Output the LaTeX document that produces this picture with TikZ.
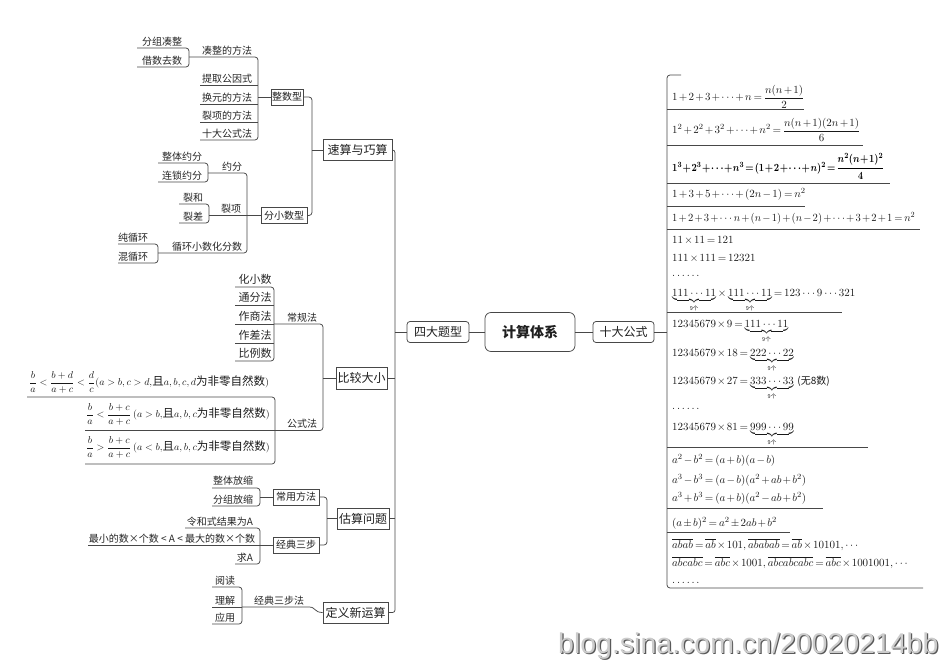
\documentclass[tikz,border=0pt]{standalone}
\usepackage{amsmath}
\usepackage{graphicx}
\usepackage{fontspec}
\newfontfamily\cjk{Noto Sans CJK SC}
\newfontfamily\wmfont{Liberation Sans}
\newcommand\zh[1]{{\cjk\fontsize{11.5}{12}\selectfont #1}}
\newcommand\nge{\mbox{\cjk\fontsize{5.5}{5.5}\selectfont 9个}}
\newcommand\tightm{\medmuskip=2mu plus 0mu minus 0mu\relax\thickmuskip=3mu plus 0mu minus 0mu\relax}
\newcommand\tighterm{\medmuskip=1mu plus 0mu minus 0mu\relax\thickmuskip=2mu plus 0mu minus 0mu\relax}
\begin{document}
\begin{tikzpicture}[x=1pt,y=-1pt,
  ln/.style={draw=black!72, line width=0.75pt},
  bus/.style={ln, rounded corners=3pt},
  tbox/.style={draw=black!72, line width=0.75pt, fill=white, inner sep=0pt, text=black!88, font=\cjk\fontsize{12}{12}\selectfont},
  sbox/.style={tbox, font=\cjk\fontsize{10}{10}\selectfont},
  lab/.style={anchor=base, inner sep=0pt, text=black!85, font=\cjk\fontsize{10}{10}\selectfont},
  labb/.style={lab, font=\cjk\fontsize{11}{11}\selectfont},
  fm/.style={anchor=base west, inner sep=0pt, text=black!90, font=\fontsize{11}{13}\selectfont\tightm},
  fmb/.style={anchor=base west, inner sep=0pt, text=black, font=\fontsize{11}{13}\selectfont\boldmath\tighterm},
  fml/.style={anchor=base west, inner sep=0pt, text=black!90, font=\fontsize{10}{12}\selectfont},
]
\path[use as bounding box, fill=white] (0,0) rectangle (950,659);

% centre
\node[tbox, rounded corners=6pt, minimum width=90pt, minimum height=39pt, font=\cjk\fontsize{14}{14}\selectfont\bfseries] (jstx) at (530,332) {计算体系};
\node[tbox, rounded corners=3pt, minimum width=62pt, minimum height=21pt] (sdtx) at (438,332) {四大题型};
\node[tbox, rounded corners=3pt, minimum width=61pt, minimum height=21pt] (sdgs) at (623.5,332) {十大公式};
\draw[ln] (sdtx) -- (jstx);
\draw[ln] (jstx) -- (sdgs);

% left main topics
\node[tbox, minimum width=69pt, minimum height=21pt] (sssq) at (357.5,150) {速算与巧算};
\node[tbox, minimum width=51pt, minimum height=22pt] (bjdx) at (361.5,378) {比较大小};
\node[tbox, minimum width=52pt, minimum height=21pt] (gswt) at (363,518.5) {估算问题};
\node[tbox, minimum width=65pt, minimum height=21pt] (dyxys) at (355.5,612.5) {定义新运算};
\draw[ln, rounded corners=2.5pt] (sssq.east) -- (395,150) -- (395,612.5) -- (dyxys.east);
\draw[ln] (bjdx.east) -- (395,378);
\draw[ln] (gswt.east) -- (395,518.5);
\draw[ln] (sdtx.west) -- (395,332);

% 速算与巧算
\node[sbox, minimum width=32pt, minimum height=16pt] (zsx) at (287,97) {整数型};
\node[sbox, minimum width=46pt, minimum height=15.5pt] (fxsx) at (284,215.5) {分小数型};
\draw[bus] (zsx.east) -- (312,97) -- (312,215.5) -- (fxsx.east);
\draw[ln] (sssq.west) -- (312,150);

\node[lab] (czdff) at (227,54) {凑整的方法};
\node[lab] (tqgys) at (227,82) {提取公因式};
\node[lab] (hydff) at (227,101) {换元的方法};
\node[lab] (lxdff) at (227,119) {裂项的方法};
\node[lab] (sdgsf) at (227,137) {十大公式法};
\draw[bus] (189,57) -- (258,57) -- (258,140) -- (200,140);
\draw[ln] (200,85) -- (258,85);
\draw[ln] (200,104) -- (258,104);
\draw[ln] (200,122) -- (258,122);
\draw[ln] (zsx.west) -- (258,97);
\node[lab] (fzcz) at (162,45) {分组凑整};
\node[lab] (jsqs) at (162,64) {借数去数};
\draw[bus] (137,48) -- (189,48) -- (189,67) -- (137,67);

\node[lab] (yf) at (232,170) {约分};
\node[lab] (lx) at (231,212.5) {裂项};
\node[lab] (xhxs) at (207,250) {循环小数化分数};
\draw[bus] (208,173) -- (247,173) -- (247,253) -- (158,253);
\draw[ln] (209,215.5) -- (247,215.5);
\draw[ln] (fxsx.west) -- (247,215.5);
\node[lab] (ztyf) at (182,160) {整体约分};
\node[lab] (lsyf) at (182,179) {连锁约分};
\draw[bus] (158,163) -- (208,163) -- (208,182) -- (158,182);
\node[lab] (lh) at (193,201) {裂和};
\node[lab] (lc) at (193,220) {裂差};
\draw[bus] (179,204) -- (209,204) -- (209,223) -- (179,223);
\node[lab] (cxh) at (133,241) {纯循环};
\node[lab] (hxh) at (133,260) {混循环};
\draw[bus] (118,244) -- (158,244) -- (158,263) -- (118,263);

% 比较大小
\node[lab] (cgf) at (302,321) {常规法};
\node[lab] (gsf) at (302,427.5) {公式法};
\draw[bus] (274,324) -- (323,324) -- (323,430.5) -- (275,430.5);
\draw[ln] (bjdx.west) -- (323,378);
\node[labb] (hxs) at (255,283.5) {化小数};
\node[labb] (tff) at (255,301.5) {通分法};
\node[labb] (zsf) at (255,320.5) {作商法};
\node[labb] (zcf) at (255,339.5) {作差法};
\node[labb] (bls) at (255,357.5) {比例数};
\draw[bus] (235,287) -- (274,287) -- (274,361) -- (235,361);
\draw[ln] (235,305) -- (274,305);
\draw[ln] (235,324) -- (274,324);
\draw[ln] (235,343) -- (274,343);
\node[fml] (f1) at (29,385.5) {$\dfrac{b}{a}<\dfrac{b+d}{a+c}<\dfrac{d}{c}(a>b,c>d,$\zh{且}$a,b,c,d$\zh{为非零自然数}$)$};
\node[fml] (f2) at (86,417.5) {$\dfrac{b}{a}<\dfrac{b+c}{a+c}\,(a>b,$\zh{且}$a,b,c$\zh{为非零自然数}$)$};
\node[fml] (f3) at (86,450.5) {$\dfrac{b}{a}>\dfrac{b+c}{a+c}\,(a<b,$\zh{且}$a,b,c$\zh{为非零自然数}$)$};
\draw[bus] (27,397) -- (275,397) -- (275,464) -- (85,464);
\draw[ln] (85,430.5) -- (275,430.5);

% 估算问题
\node[sbox, minimum width=46pt, minimum height=16pt] (cyff) at (296,497) {常用方法};
\node[sbox, minimum width=46pt, minimum height=16pt] (jdsb) at (296,545) {经典三步};
\draw[bus] (cyff.east) -- (327,497) -- (327,545) -- (jdsb.east);
\draw[ln] (gswt.west) -- (327,518.5);
\node[lab] (ztfs) at (233,484.5) {整体放缩};
\node[lab] (fzfs) at (233,503) {分组放缩};
\draw[bus] (212,488) -- (260,488) -- (260,506) -- (212,506);
\draw[ln] (260,497) -- (cyff.west);
\node[lab] (lhs) at (220,525) {令和式结果为A};
\node[lab] (zxds) at (172,542) {最小的数×个数 < A < 最大的数×个数};
\node[lab] (qa) at (245,561) {求A};
\draw[bus] (185,528) -- (260,528) -- (260,564) -- (235,564);
\draw[ln] (88,545) -- (jdsb.west);

% 定义新运算
\node[lab] (jdsbf) at (279,604) {经典三步法};
\draw[ln] (242,607) -- (309,607) .. controls (316,607) and (314,612.5) .. (dyxys.west);
\node[lab] (yd) at (225,584) {阅读};
\node[lab] (lj) at (225,604) {理解};
\node[lab] (yyy) at (225,621) {应用};
\draw[bus] (212,587) -- (242,587) -- (242,624) -- (212,624);
\draw[ln] (212,607) -- (242,607);

% right side
\draw[bus] (681,75) -- (667,75) -- (667,588) -- (923,588);
\draw[ln] (sdgs.east) -- (667,332);
\foreach \uy/\ux in {109/804, 145/863, 183/890, 206/805, 229/920, 312/842, 447/868, 508/823, 532/790}
  \draw[ln] (667,\uy) -- (\ux,\uy);

\node[fm] (r1) at (672,100.5) {$1+2+3+\cdots+n=\dfrac{n(n+1)}{2}$};
\node[fm] (r2) at (672,133.5) {$1^2+2^2+3^2+\cdots+n^2=\dfrac{n(n+1)(2n+1)}{6}$};
\node[fmb] (r3) at (672,171) {\resizebox{212pt}{\height}{$1^3+2^3+\cdots+n^3=(1+2+\cdots+n)^2=\dfrac{n^2(n+1)^2}{4}$}};
\node[fm] (r4) at (672,197) {$1+3+5+\cdots+(2n-1)=n^2$};
\node[fm] (r5) at (672,221) {\resizebox{243pt}{\height}{$1+2+3+\cdots n+(n-1)+(n-2)+\cdots+3+2+1=n^2$}};
\node[fm] (r6a) at (672,243.5) {$11\times11=121$};
\node[fm] (r6b) at (672,261.5) {$111\times111=12321$};
\node[fm] (r6c) at (672,276) {$\ldots\ldots$};
\node[fm] (r6d) at (672,296.5) {$\underbrace{111\cdots11}_{\nge}\times\underbrace{111\cdots11}_{\nge}=123\cdots9\cdots321$};
\node[fm] (r7a) at (672,327.5) {$12345679\times9=\underbrace{111\cdots11}_{\nge}$};
\node[fm] (r7b) at (672,356.5) {$12345679\times18=\underbrace{222\cdots22}_{\nge}$};
\node[fm] (r7c) at (672,384.5) {$12345679\times27=\underbrace{333\cdots33}_{\nge}$ {\cjk\fontsize{10}{10}\selectfont (无8数)}};
\node[fm] (r7d) at (672,409) {$\ldots\ldots$};
\node[fm] (r7e) at (672,430.5) {$12345679\times81=\underbrace{999\cdots99}_{\nge}$};
\node[fm] (r8a) at (672,463.5) {$a^2-b^2=(a+b)(a-b)$};
\node[fm] (r8b) at (672,483.5) {$a^3-b^3=(a-b)(a^2+ab+b^2)$};
\node[fm] (r8c) at (672,501.5) {$a^3+b^3=(a+b)(a^2-ab+b^2)$};
\node[fm] (r9) at (672,526.5) {$(a\pm b)^2=a^2\pm2ab+b^2$};
\node[fm] (r10a) at (672,548.5) {$\overline{abab}=\overline{ab}\times101,\overline{ababab}=\overline{ab}\times10101,\cdots$};
\node[fm] (r10b) at (672,566.5) {$\overline{abcabc}=\overline{abc}\times1001,\overline{abcabcabc}=\overline{abc}\times1001001,\cdots$};
\node[fm] (r10c) at (672,583) {$\ldots\ldots$};

% watermark
\node[anchor=base west, inner sep=0pt, font=\wmfont\fontsize{28.5}{30}\selectfont, text=black!65] (wms) at (559.2,654.2) {blog.sina.com.cn/20020214bb};
\node[anchor=base west, inner sep=0pt, font=\wmfont\fontsize{28.5}{30}\selectfont, text=black!20] (wm) at (558,653) {blog.sina.com.cn/20020214bb};
\end{tikzpicture}
\end{document}
